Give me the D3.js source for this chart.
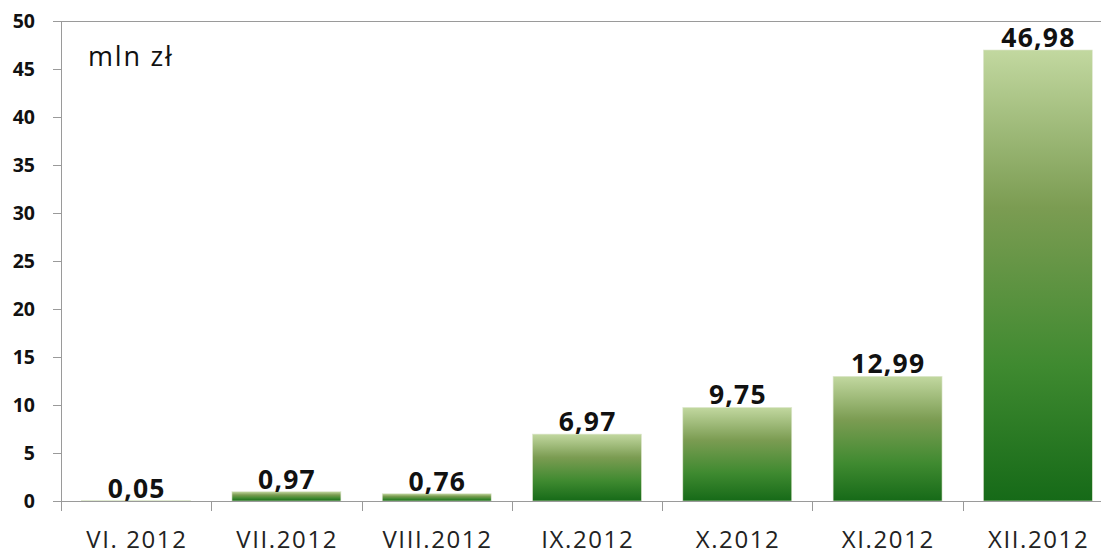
<!DOCTYPE html>
<html><head><meta charset="utf-8">
<script src="https://cdn.jsdelivr.net/npm/d3@7"></script>
<style>body{margin:0;background:#fff}svg{display:block}</style>
</head><body>
<svg id="c" width="1101" height="556"></svg>
<script>
const categories = ["VI. 2012","VII.2012","VIII.2012","IX.2012","X.2012","XI.2012","XII.2012"];
const values = [0.05,0.97,0.76,6.97,9.75,12.99,46.98];
const yTicks = [0,5,10,15,20,25,30,35,40,45,50];
const unitLabel = "mln zł";

(function(){
const svg = d3.select("#c");
const mLeft = 61, mTop = 21, mBottom = 501, mRight = 1113;
const x = d3.scaleBand().domain(categories).range([mLeft, mRight]).paddingInner(0.275).paddingOuter(0.1375);
const y = d3.scaleLinear().domain([0,50]).range([mBottom, mTop]);
const font = "Open Sans, Lato, sans-serif";

const defs = svg.append("defs");
const g = defs.append("linearGradient").attr("id","gr").attr("x1",0).attr("y1",0).attr("x2",0).attr("y2",1);
g.append("stop").attr("offset","0%").attr("stop-color","#c2d8a0");
g.append("stop").attr("offset","35%").attr("stop-color","#7b9c52");
g.append("stop").attr("offset","70%").attr("stop-color","#3f8a30");
g.append("stop").attr("offset","100%").attr("stop-color","#166a18");

svg.append("line").attr("x1",mLeft).attr("x2",1101).attr("y1",y(50)+0.5).attr("y2",y(50)+0.5).attr("stroke","#9a9a9a");

svg.selectAll("rect.bar").data(values).join("rect")
  .attr("x",(d,i)=>x(categories[i])).attr("width",x.bandwidth())
  .attr("y",d=>y(d)).attr("height",d=>mBottom-y(d))
  .attr("fill","url(#gr)").attr("stroke","#dfe8d0").attr("stroke-width",0.6);

const ya = svg.append("g").attr("transform",`translate(${mLeft},0)`)
  .call(d3.axisLeft(y).tickValues(yTicks).tickSize(8).tickPadding(18));
ya.select(".domain").attr("stroke","#9a9a9a").attr("d",`M0.5,${mTop}V${mBottom}`);
ya.selectAll(".tick line").attr("stroke","#9a9a9a");
ya.selectAll("text").attr("font-family",font).attr("font-size",19.5).attr("font-weight","bold").attr("fill","#111");

const xa = svg.append("g").attr("transform",`translate(0,${mBottom})`);
xa.append("line").attr("x1",mLeft).attr("x2",1101).attr("y1",0.5).attr("y2",0.5).attr("stroke","#9a9a9a");
const step = x.step();
xa.selectAll("line.tk").data(d3.range(categories.length+1)).join("line")
  .attr("x1",i=>Math.round(mLeft+i*step)+0.5).attr("x2",i=>Math.round(mLeft+i*step)+0.5)
  .attr("y1",0).attr("y2",10).attr("stroke","#9a9a9a");
xa.selectAll("text").data(categories).join("text")
  .attr("x",d=>x(d)+x.bandwidth()/2+0.75).attr("y",47)
  .attr("text-anchor","middle").attr("font-family",font).attr("font-size",24).attr("letter-spacing","1.6px").attr("fill","#222")
  .text(d=>d);

svg.selectAll("text.val").data(values).join("text")
  .attr("x",(d,i)=>x(categories[i])+x.bandwidth()/2+0.6).attr("y",d=>y(d)-3)
  .attr("text-anchor","middle").attr("font-family",font).attr("font-size",26.5).attr("font-weight","bold").attr("letter-spacing","1.2px").attr("fill","#111")
  .text(d=>d.toFixed(2).replace(".",","));

svg.append("text").attr("x",88).attr("y",66).attr("font-family",font).attr("font-size",27).attr("letter-spacing","1.8px").attr("fill","#111").text(unitLabel);
})();
</script>
</body></html>
